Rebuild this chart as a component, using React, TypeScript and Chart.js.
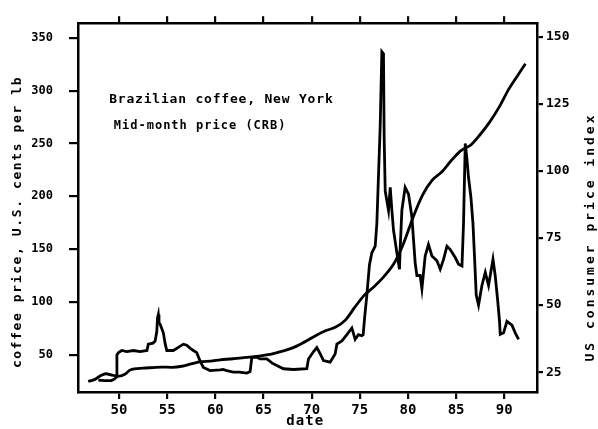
import React, { useEffect, useRef } from 'react';
import { Chart, registerables } from 'chart.js';

Chart.register(...registerables);

const xTicks = [1950, 1955, 1960, 1965, 1970, 1975, 1980, 1985, 1990];
const coffeeTicks = [50, 100, 150, 200, 250, 300, 350];
const cpiTicks = [25, 50, 75, 100, 125, 150];

const coffeeYears = [
  1947.85, 1948.5, 1949.2, 1949.55, 1949.7, 1949.78, 1949.95, 1950.28, 1950.8, 1951.5,
  1952.2, 1952.9, 1953.04, 1953.53, 1953.75, 1953.92, 1954.0, 1954.08, 1954.15, 1954.26,
  1954.6, 1954.8, 1954.96, 1955.64, 1956.16, 1956.68, 1957.03, 1957.4, 1957.72, 1958.07,
  1958.42, 1958.76, 1959.45, 1960.49, 1960.8, 1961.19, 1961.88, 1962.5, 1963.27, 1963.61,
  1963.79, 1964.31, 1964.65, 1965.35, 1965.9, 1966.38, 1967.07, 1968.11, 1969.5, 1969.67,
  1970.2, 1970.54, 1970.88, 1971.23, 1971.92, 1972.44, 1972.62, 1973.14, 1973.66, 1974.18,
  1974.52, 1974.86, 1975.2, 1975.35, 1975.5, 1975.73, 1976.0, 1976.25, 1976.6, 1976.77,
  1977.12, 1977.29, 1977.46, 1977.53, 1977.64, 1977.98, 1978.16, 1978.33, 1978.5, 1978.85,
  1979.12, 1979.19, 1979.37, 1979.71, 1980.06, 1980.41, 1980.75, 1980.93, 1981.27, 1981.45,
  1981.79, 1982.13, 1982.49, 1983.01, 1983.35, 1983.69, 1984.05, 1984.39, 1984.91, 1985.25,
  1985.61, 1985.77, 1985.95, 1986.12, 1986.29, 1986.54, 1986.75, 1986.91, 1987.09, 1987.33,
  1987.68, 1988.03, 1988.37, 1988.83, 1989.06, 1989.3, 1989.51, 1989.58, 1989.93, 1990.28,
  1990.8, 1991.14, 1991.49,
];
const coffeePrices = [
  26, 25.5, 25.5, 27, 29, 50, 52, 54, 53, 54,
  53, 54, 60, 61, 63, 72, 85, 88, 80, 79,
  70.7, 60, 54, 54, 57, 60, 59, 56, 54, 52,
  44, 38, 35, 35.7, 36, 35, 33.6, 33.5, 32.6, 34,
  47.5, 47.5, 46, 46, 42, 39.8, 36.7, 36, 36.7, 46,
  53, 56.8, 51, 44.4, 42.9, 50.6, 60, 63, 69, 75.3,
  64.6, 69, 68, 69, 85, 106, 135, 146.5, 152.8, 174,
  267, 337, 335, 255, 205, 186.8, 208.5, 186.8, 168, 146.6,
  131, 149.6, 186.8, 208.5, 202, 180.6, 137, 125, 125, 112.5,
  143.5, 154.3, 143.5, 138.9, 131, 140, 152.8, 149.6, 142, 135.7,
  134, 174.4, 250, 236, 217.8, 199, 174.4, 143.5, 106.4, 97,
  115.6, 128, 115.6, 140.3, 125, 103, 81.6, 69.2, 70.7, 81.6,
  78, 70.7, 64.6,
];

const cpiYears = [
  1946.8, 1947.5, 1948.0, 1948.6, 1949.3, 1950.0, 1950.6, 1951.2, 1952.5, 1953.5,
  1954.5, 1955.5, 1956.5, 1957.5, 1958.5, 1959.5, 1960.5, 1961.5, 1962.5, 1963.5,
  1964.5, 1965.5, 1966.5, 1967.5, 1968.5, 1969.5, 1970.5, 1971.5, 1972.5, 1973.5,
  1974.5, 1975.5, 1976.5, 1977.5, 1978.5, 1979.5, 1980.5, 1981.5, 1982.5, 1983.5,
  1984.5, 1985.5, 1986.5, 1987.5, 1988.5, 1989.5, 1990.5, 1991.5, 1992.2,
];
const cpiValues = [
  21.5, 22.3, 23.5, 24.4, 23.9, 23.5, 24.2, 25.9, 26.5, 26.7,
  26.9, 26.8, 27.2, 28.1, 28.9, 29.1, 29.6, 29.9, 30.2, 30.6,
  31.0, 31.5, 32.4, 33.4, 34.8, 36.7, 38.8, 40.5, 41.8, 44.4,
  49.3, 53.8, 56.9, 60.6, 65.2, 72.6, 82.4, 90.9, 96.5, 99.6,
  103.9, 107.6, 109.6, 113.6, 118.3, 124.0, 130.7, 136.2, 140.0,
];

const leftTitle = 'coffee price, U.S. cents per lb';
const rightTitle = 'US consumer price index';
const bottomTitle = 'date';
const note1 = 'Brazilian coffee, New York';
const note2 = 'Mid-month price (CRB)';

const FONT = '"DejaVu Sans Mono", monospace';
const INK = '#000';

const textPlugin = {
  id: 'texts',
  afterDraw(chart: any) {
    const { ctx, chartArea: ca } = chart;
    const w = ca.right - ca.left;
    const h = ca.bottom - ca.top;
    ctx.save();
    ctx.fillStyle = INK;
    ctx.textBaseline = 'middle';
    ctx.textAlign = 'left';
    ctx.font = `bold 13px ${FONT}`;
    (ctx as any).letterSpacing = '0.8px';
    ctx.fillText(note1, ca.left + w * 0.068, ca.top + h * 0.207);
    ctx.font = `bold 12px ${FONT}`;
    (ctx as any).letterSpacing = '1px';
    ctx.fillText(note2, ca.left + w * 0.078, ca.top + h * 0.279);

    ctx.textAlign = 'center';
    ctx.font = `bold 13px ${FONT}`;
    (ctx as any).letterSpacing = '1.6px';
    ctx.save();
    ctx.translate(18, 222);
    ctx.rotate(-Math.PI / 2);
    ctx.fillText(leftTitle, 0, 0);
    ctx.restore();

    (ctx as any).letterSpacing = '3px';
    ctx.save();
    ctx.translate(591, 237);
    ctx.rotate(-Math.PI / 2);
    ctx.fillText(rightTitle, 0, 0);
    ctx.restore();

    ctx.font = `bold 14px ${FONT}`;
    (ctx as any).letterSpacing = '1px';
    ctx.fillText(bottomTitle, ca.left + w * 0.495, 421);
    ctx.restore();
  },
};

function setTicks(values: number[]) {
  return (scale: any) => {
    scale.ticks = values.map((v) => ({ value: v }));
  };
}

export default function App() {
  const ref = useRef<HTMLCanvasElement | null>(null);

  useEffect(() => {
    document.body.style.margin = '0';
    const canvas = ref.current;
    if (!canvas) return;
    const gridBase = {
      drawOnChartArea: false,
      drawTicks: true,
      color: INK,
      lineWidth: 2.2,
    };
    const chart = new Chart(canvas, {
      type: 'line',
      data: {
        datasets: [
          {
            label: 'coffee',
            data: coffeeYears.map((x, i) => ({ x, y: coffeePrices[i] })),
            xAxisID: 'x',
            yAxisID: 'y',
            borderColor: INK,
            borderWidth: 2.8,
            pointRadius: 0,
            tension: 0,
            fill: false,
          },
          {
            label: 'cpi',
            data: cpiYears.map((x, i) => ({ x, y: cpiValues[i] })),
            xAxisID: 'x',
            yAxisID: 'y2',
            borderColor: INK,
            borderWidth: 2.8,
            pointRadius: 0,
            tension: 0.3,
            fill: false,
          },
        ],
      },
      options: {
        animation: false,
        responsive: false,
        maintainAspectRatio: false,
        layout: { padding: 0 },
        plugins: { legend: { display: false }, tooltip: { enabled: false } },
        scales: {
          x: {
            type: 'linear',
            position: 'bottom',
            min: 1945.74,
            max: 1993.4,
            afterBuildTicks: setTicks(xTicks),
            afterFit: (s: any) => { s.height = 37; },
            ticks: {
              autoSkip: false,
              maxRotation: 0,
              padding: 3,
              color: INK,
              font: { family: FONT, size: 14, weight: 'bold' },
              callback: (v: any) => String(Number(v) - 1900),
            },
            grid: { ...gridBase, tickLength: 7 },
            border: { color: INK, width: 2.5 },
          },
          x2: {
            type: 'linear',
            position: 'top',
            min: 1945.74,
            max: 1993.4,
            afterBuildTicks: setTicks(xTicks),
            afterFit: (s: any) => { s.height = 16; },
            ticks: { display: false },
            grid: { ...gridBase, tickLength: 7 },
            border: { color: INK, width: 2.5 },
          },
          y: {
            type: 'linear',
            position: 'left',
            min: 14.7,
            max: 363.9,
            afterBuildTicks: setTicks(coffeeTicks),
            afterFit: (s: any) => { s.width = 78; },
            ticks: {
              autoSkip: false,
              padding: 16,
              color: INK,
              font: { family: FONT, size: 12, weight: 'bold' },
            },
            grid: { ...gridBase, tickLength: 9 },
            border: { color: INK, width: 2.5 },
          },
          y2: {
            type: 'linear',
            position: 'right',
            min: 17.6,
            max: 155.1,
            afterBuildTicks: setTicks(cpiTicks),
            afterFit: (s: any) => { s.width = 61; },
            ticks: {
              autoSkip: false,
              padding: 3,
              color: INK,
              font: { family: FONT, size: 13, weight: 'bold' },
            },
            grid: { ...gridBase, tickLength: 6 },
            border: { color: INK, width: 2.5 },
          },
        },
      },
      plugins: [textPlugin],
    });
    return () => chart.destroy();
  }, []);

  return (
    <div style={{ width: 598, height: 429, background: '#fff' }}>
      <canvas ref={ref} width={598} height={429} style={{ display: 'block' }} />
    </div>
  );
}
